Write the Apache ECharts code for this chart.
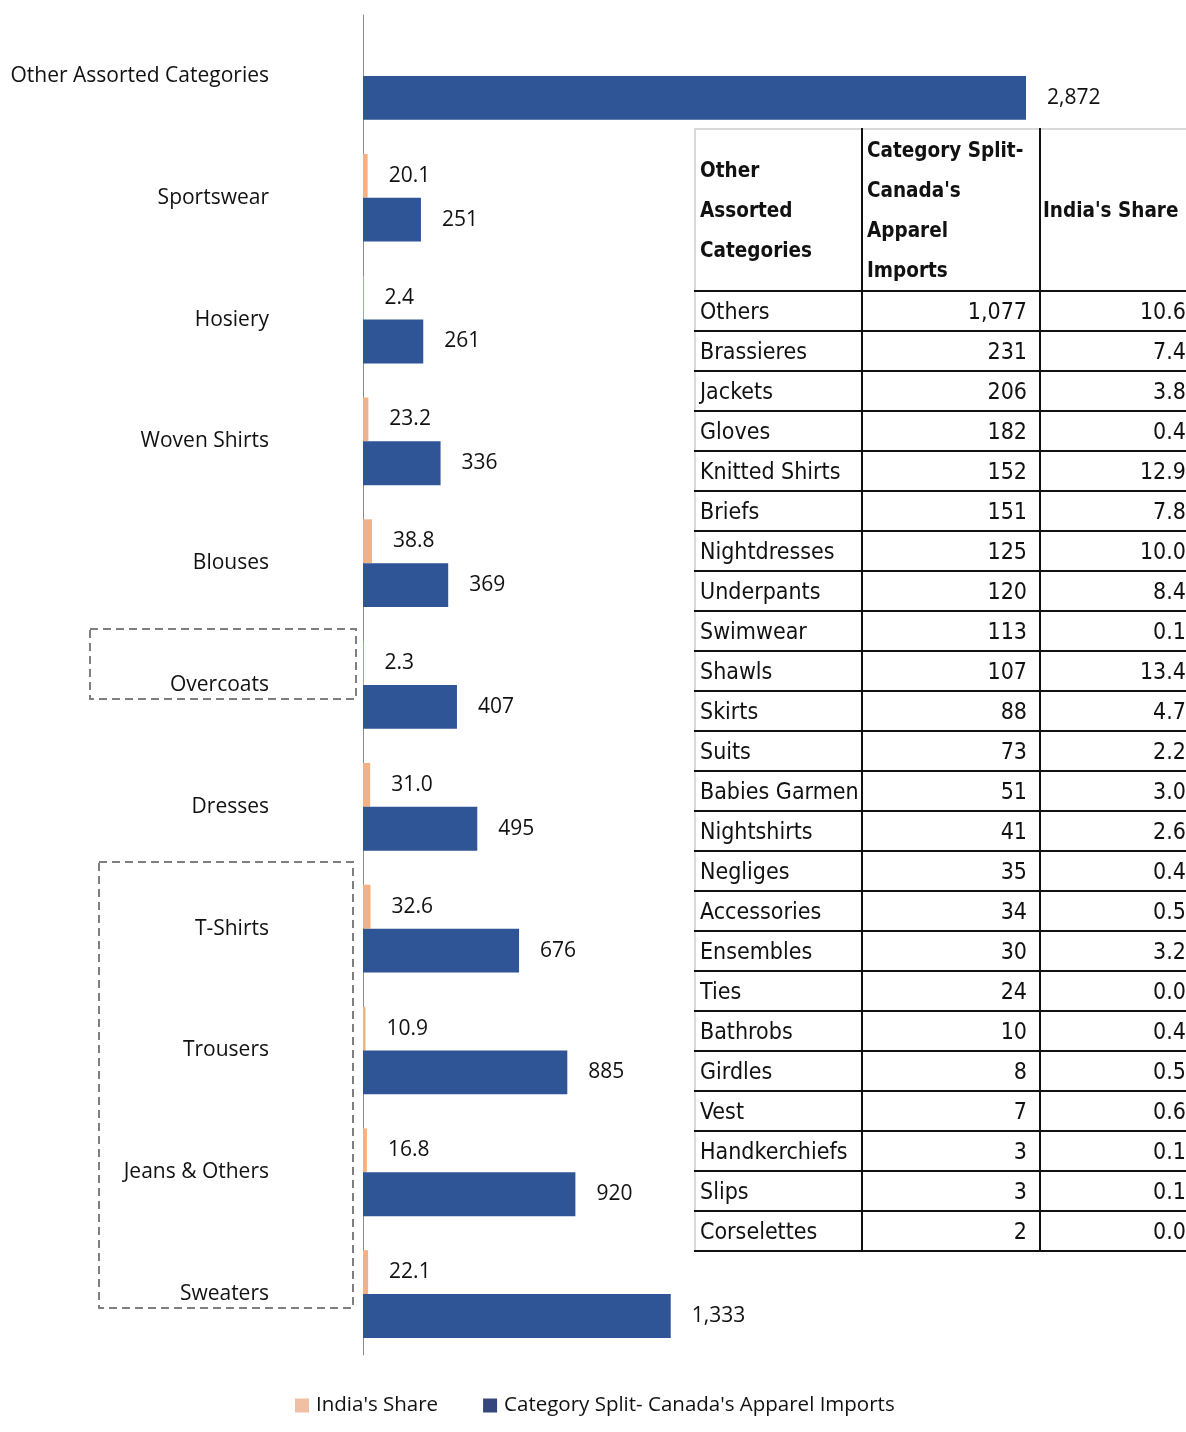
<!DOCTYPE html>
<html>
<head>
<meta charset="utf-8">
<script src="https://cdn.jsdelivr.net/npm/echarts@6/dist/echarts.min.js"></script>
<style>
  html, body { margin: 0; padding: 0; background: #fff; overflow: hidden; }
  #chart { position: absolute; left: 0; top: 0; width: 1186px; height: 1432px; }
  #tbl { position: absolute; left: 694px; top: 128px; border-collapse: collapse; table-layout: fixed; width: 502px;
         font-family: "Liberation Sans Narrow", "DejaVu Sans Condensed", sans-serif; font-size: 23px; color: #111; }
  #tbl td { border: 2px solid #111; padding: 0 4px; height: 38px; line-height: 38px; white-space: nowrap; overflow: hidden; box-sizing: border-box; }
  #tbl td.num { text-align: right; padding-right: 12px; }
  #tbl td.num3 { padding-right: 10px; }
  #tbl tr.hd td { font-weight: bold; font-size: 20.5px; height: 161px; line-height: 40px; vertical-align: middle; border-top: 2px solid #d9d9d9; overflow: visible; }
  #tbl tr.hd td.c3 { padding-left: 2px; }
  #tbl td.first { border-left: 2px solid #d9d9d9; }
</style>
</head>
<body>
<div id="chart"></div>
<table id="tbl"></table>
<script>
// ---- Chart data ----
const categories = ["Other Assorted Categories", "Sportswear", "Hosiery", "Woven Shirts", "Blouses",
  "Overcoats", "Dresses", "T-Shirts", "Trousers", "Jeans & Others", "Sweaters"];
const indiaShare = [null, 20.1, 2.4, 23.2, 38.8, 2.3, 31.0, 32.6, 10.9, 16.8, 22.1];
const canadaImports = [2872, 251, 261, 336, 369, 407, 495, 676, 885, 920, 1333];
const seriesNames = ["India's Share", "Category Split- Canada's Apparel Imports"];

// ---- Table data ----
const tableHeaders = [["Other", "Assorted", "Categories"], ["Category Split-", "Canada's", "Apparel", "Imports"], ["India's Share"]];
const tableNames = ["Others", "Brassieres", "Jackets", "Gloves", "Knitted Shirts", "Briefs", "Nightdresses",
  "Underpants", "Swimwear", "Shawls", "Skirts", "Suits", "Babies Garmen", "Nightshirts", "Negliges",
  "Accessories", "Ensembles", "Ties", "Bathrobs", "Girdles", "Vest", "Handkerchiefs", "Slips", "Corselettes"];
const tableImports = [1077, 231, 206, 182, 152, 151, 125, 120, 113, 107, 88, 73, 51, 41, 35, 34, 30, 24, 10, 8, 7, 3, 3, 2];
const tableShares = [10.6, 7.4, 3.8, 0.4, 12.9, 7.8, 10.0, 8.4, 0.1, 13.4, 4.7, 2.2, 3.0, 2.6, 0.4, 0.5, 3.2, 0.0, 0.4, 0.5, 0.6, 0.1, 0.1, 0.0];

// build table
(function () {
  const t = document.getElementById('tbl');
  let html = '<colgroup><col style="width:167px"><col style="width:178px"><col style="width:157px"></colgroup>';
  html += '<tr class="hd"><td class="first">' + tableHeaders[0].join('<br>') + '</td><td>' +
    tableHeaders[1].join('<br>') + '</td><td class="c3">' + tableHeaders[2].join('<br>') + '</td></tr>';
  for (let i = 0; i < tableNames.length; i++) {
    html += '<tr><td class="first">' + tableNames[i] + '</td><td class="num">' +
      tableImports[i].toLocaleString('en-US') + '</td><td class="num num3">' + tableShares[i].toFixed(1) + '</td></tr>';
  }
  t.innerHTML = html;
})();

const FONT = '"Open Sans", "Noto Sans", sans-serif';
const chart = echarts.init(document.getElementById('chart'), null, { renderer: 'canvas' });
chart.setOption({
  animation: false,
  textStyle: { fontFamily: FONT },
  grid: { left: 363, right: 15, top: 15, bottom: 77, containLabel: false },
  xAxis: { type: 'value', min: 0, max: 3500, show: false },
  yAxis: {
    type: 'category', data: categories, inverse: true,
    axisLine: { show: true, lineStyle: { color: '#8c8c8c', width: 1 } },
    axisTick: { show: false },
    axisLabel: { margin: 94, fontSize: 21, color: '#111', fontFamily: FONT }
  },
  legend: {
    left: 295, top: 1395, padding: 0, itemWidth: 14, itemHeight: 14, itemGap: 45,
    icon: 'rect',
    textStyle: { fontSize: 20.5, color: '#111', fontFamily: FONT, padding: [0, 0, 0, 2] },
    data: [
      { name: seriesNames[0], itemStyle: { color: '#F0C0A4' } },
      { name: seriesNames[1], itemStyle: { color: '#34487E' } }
    ]
  },
  series: [
    {
      name: seriesNames[0], type: 'bar', data: indiaShare, barGap: '0%', barCategoryGap: '28%',
      itemStyle: { color: '#F4B183' },
      label: { show: true, position: 'right', distance: 21, fontSize: 21, color: '#111', fontFamily: FONT,
        formatter: p => (p.value == null ? '' : Number(p.value).toFixed(1)) }
    },
    {
      name: seriesNames[1], type: 'bar', data: canadaImports, barGap: '0%', barCategoryGap: '28%',
      itemStyle: { color: '#2F5597' },
      label: { show: true, position: 'right', distance: 21, fontSize: 21, color: '#111', fontFamily: FONT,
        formatter: p => Number(p.value).toLocaleString('en-US') }
    }
  ],
  graphic: [
    { type: 'rect', shape: { x: 90, y: 629, width: 266, height: 70 },
      style: { fill: 'none', stroke: '#7f7f7f', lineWidth: 2, lineDash: [8, 5] }, z: 10 },
    { type: 'rect', shape: { x: 99, y: 862, width: 254, height: 446 },
      style: { fill: 'none', stroke: '#7f7f7f', lineWidth: 2, lineDash: [8, 5] }, z: 10 }
  ]
});
</script>
</body>
</html>
